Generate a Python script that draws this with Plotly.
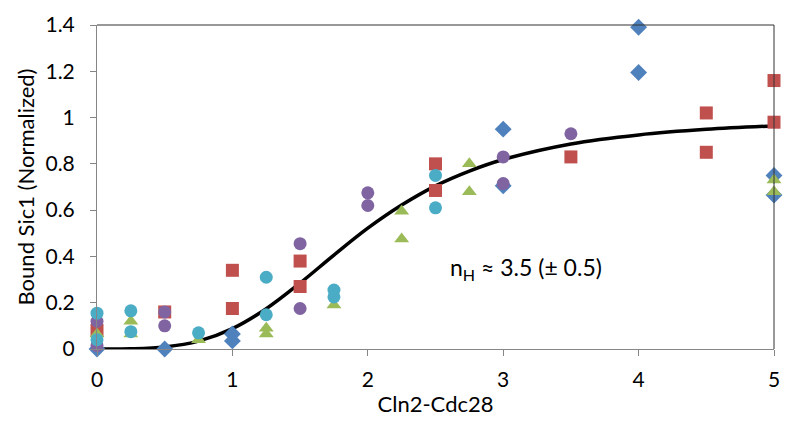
import plotly.graph_objects as go

# --- data ---
blue_x = [0, 0.5, 1, 1, 3, 3, 4, 4, 5, 5]
blue_y = [0.0, 0.0, 0.065, 0.035, 0.95, 0.705, 1.39, 1.195, 0.75, 0.665]

red_x = [0, 0.5, 1, 1, 1.5, 1.5, 2.5, 2.5, 3.5, 4.5, 4.5, 5, 5]
red_y = [0.08, 0.16, 0.34, 0.175, 0.38, 0.27, 0.80, 0.685, 0.83, 1.02, 0.85, 1.16, 0.98]

green_x = [0, 0.25, 0.25, 0.75, 1.25, 1.25, 1.75, 2.25, 2.25, 2.75, 2.75, 5, 5]
green_y = [0.065, 0.12, 0.065, 0.04, 0.09, 0.065, 0.19, 0.595, 0.475, 0.80, 0.68, 0.73, 0.68]

purple_x = [0, 0, 0.5, 0.5, 1.5, 1.5, 2, 2, 3, 3, 3.5]
purple_y = [0.12, 0.015, 0.16, 0.10, 0.455, 0.175, 0.675, 0.62, 0.83, 0.715, 0.93]

teal_x = [0, 0, 0.25, 0.25, 0.75, 1.25, 1.25, 1.75, 1.75, 2.5, 2.5]
teal_y = [0.155, 0.04, 0.165, 0.075, 0.07, 0.31, 0.148, 0.255, 0.225, 0.75, 0.61]

# fitted Hill curve
fit_x = [0, 0.25, 0.5, 0.75, 1, 1.25, 1.5, 1.75, 2, 2.25, 2.5, 2.75, 3, 3.5, 4, 4.5, 5]
fit_y = [0, 0.001, 0.009, 0.034, 0.088, 0.174, 0.285, 0.406, 0.522, 0.622, 0.705,
         0.769, 0.819, 0.886, 0.925, 0.949, 0.964]

x_ticks = [0, 1, 2, 3, 4, 5]
y_ticks = [0, 0.2, 0.4, 0.6, 0.8, 1.0, 1.2, 1.4]
y_tick_labels = ["0", "0.2", "0.4", "0.6", "0.8", "1", "1.2", "1.4"]

annot_text = "n<sub>H</sub> ≈ 3.5 (± 0.5)"
annot_x, annot_y = 3.17, 0.35

FONT = "Lato, Carlito, Calibri, sans-serif"

fig = go.Figure()

fig.add_trace(go.Scatter(x=fit_x, y=fit_y, mode="lines", line=dict(color="black", width=3.5, shape="spline"),
                         showlegend=False, hoverinfo="skip", cliponaxis=False))

series = [
    (blue_x, blue_y, "#4F81BD", "diamond", 13),
    (red_x, red_y, "#C0504D", "square", 13),
    (green_x, green_y, "#9BBB59", "triangle-up", 13),
    (purple_x, purple_y, "#8064A2", "circle", 13),
    (teal_x, teal_y, "#4BACC6", "circle", 13),
]
for xs, ys, col, sym, sz in series:
    fig.add_trace(go.Scatter(x=xs, y=ys, mode="markers",
                             marker=dict(color=col, symbol=sym, size=sz, line=dict(width=0)),
                             showlegend=False, cliponaxis=False))

fig.add_shape(type="line", xref="paper", yref="paper", x0=0, x1=1, y0=1, y1=1,
              line=dict(color="#333333", width=1))
fig.add_shape(type="line", xref="paper", yref="paper", x0=1, x1=1, y0=0, y1=1,
              line=dict(color="#333333", width=1))

fig.add_annotation(x=annot_x, y=annot_y, xref="x", yref="y", showarrow=False,
                   text=annot_text, font=dict(family=FONT, size=23, color="black"))

fig.update_layout(
    width=791, height=424,
    margin=dict(l=97, r=11, t=12, b=75),
    plot_bgcolor="white", paper_bgcolor="white",
    font=dict(family=FONT, size=21, color="black"),
    xaxis=dict(range=[0, 5], tickvals=x_ticks, showgrid=False, zeroline=False,
               showline=True, linecolor="#868686", linewidth=1,
               ticks="outside", ticklen=6, tickcolor="#868686", ticklabelstandoff=6,
               ticklabeloverflow="allow",
               title=dict(text="Cln2-Cdc28", font=dict(size=22), standoff=6)),
    yaxis=dict(range=[0, 1.4], tickvals=y_ticks, ticktext=y_tick_labels, showgrid=False, zeroline=False,
               showline=True, linecolor="#868686", linewidth=1,
               ticks="outside", ticklen=6, tickcolor="#868686", ticklabelstandoff=11,
               ticklabeloverflow="allow",
               title=dict(text="Bound Sic1 (Normalized)", font=dict(size=22), standoff=4)),
)

fig.write_html("out.html")
